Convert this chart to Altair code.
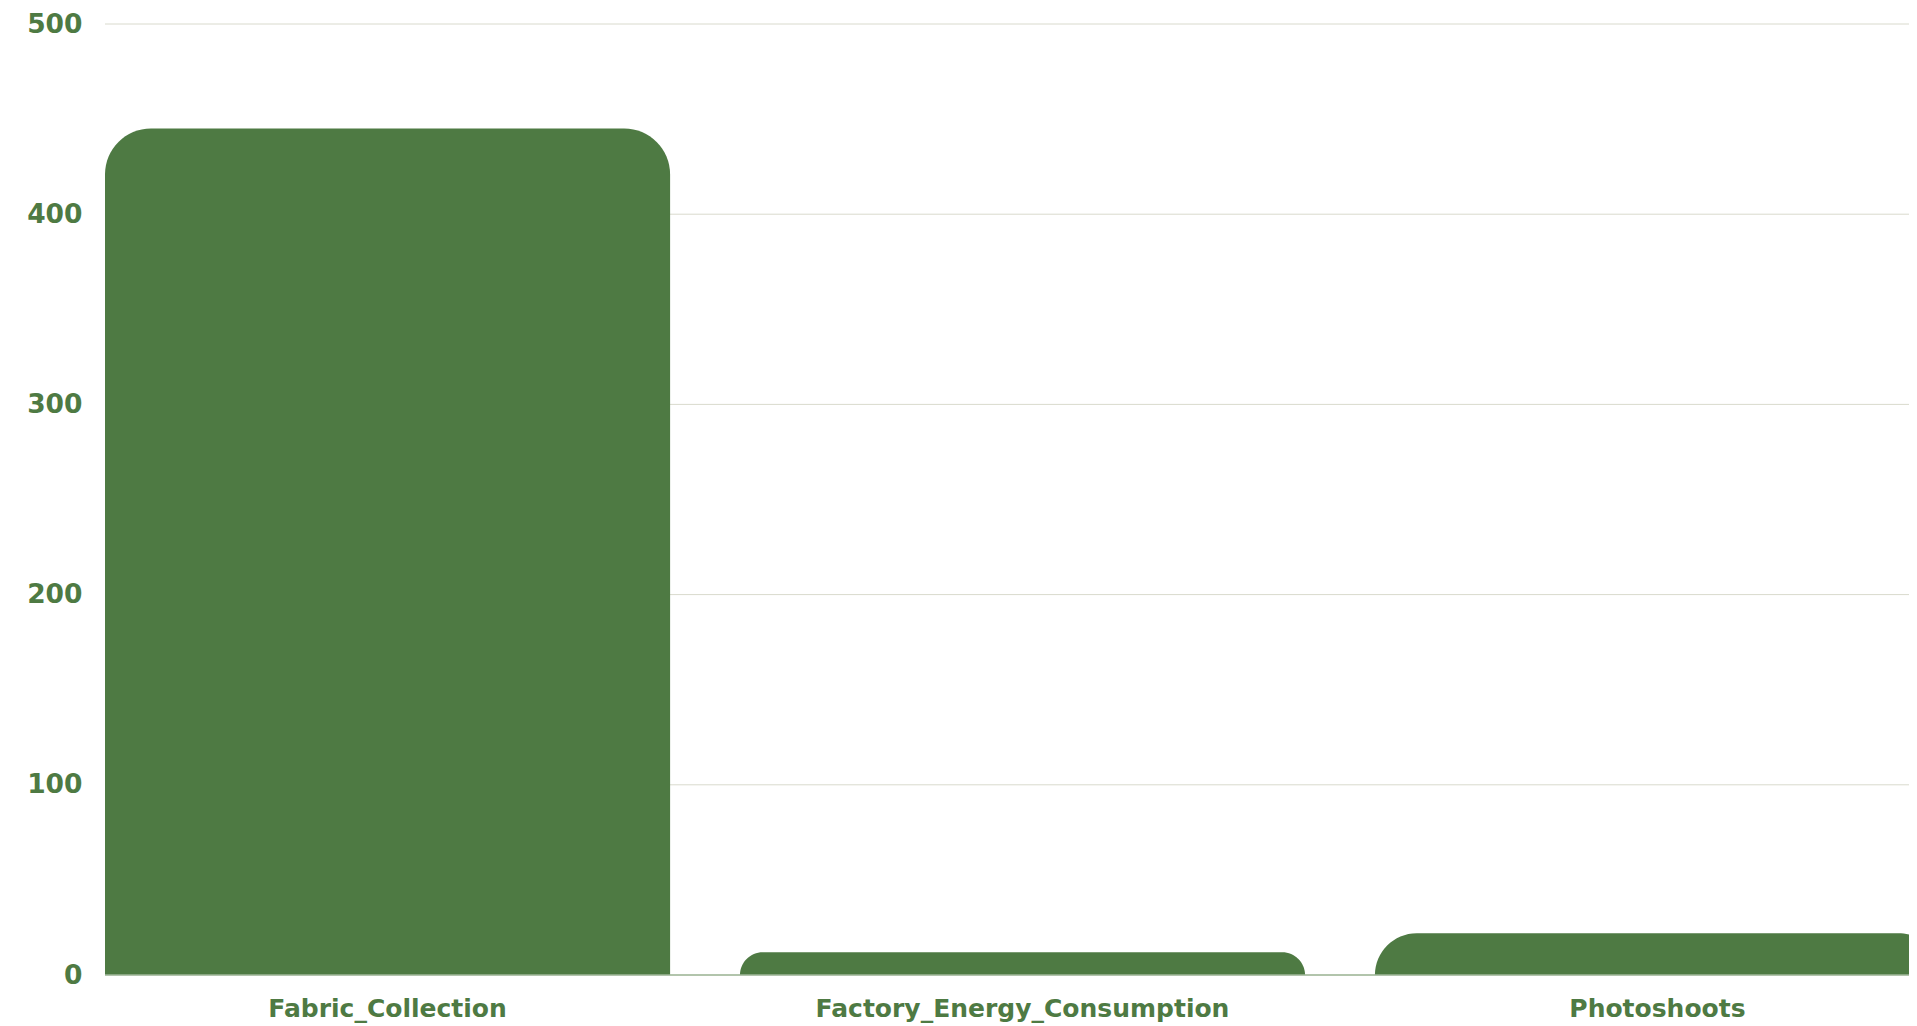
import altair as alt
import pandas as pd

categories = ["Fabric_Collection", "Factory_Energy_Consumption", "Photoshoots"]
values = [445, 12, 22]
y_ticks = [0, 100, 200, 300, 400, 500]

df = pd.DataFrame({"category": categories, "value": values})
grid_df = pd.DataFrame({"tick": y_ticks})
base_df = pd.DataFrame({"tick": [0]})

GREEN = "#4e7a43"
FONT = "DejaVu Sans"
PLOT_W = 1804
PLOT_H = 951

y_scale = alt.Scale(domain=[0, 500], nice=False)

grid = alt.Chart(grid_df).mark_rule(color="#d9dacd", strokeWidth=1).encode(
    y=alt.Y("tick:Q", scale=y_scale),
    x=alt.value(0),
    x2=alt.value(PLOT_W),
)

bars = alt.Chart(df).transform_calculate(
    mirror="-datum.value"
).mark_bar(
    color=GREEN,
    cornerRadiusTopLeft=46,
    cornerRadiusTopRight=46,
    clip=True,
).encode(
    x=alt.X(
        "category:N",
        sort=categories,
        title=None,
        scale=alt.Scale(paddingInner=0.11, paddingOuter=0, range=[0, 1835]),
        axis=alt.Axis(
            labelAngle=0,
            labelFont=FONT,
            labelFontSize=25,
            labelFontWeight="bold",
            labelColor=GREEN,
            labelPadding=21,
            labelLimit=0,
            ticks=False,
            domain=False,
            grid=False,
        ),
    ),
    y=alt.Y(
        "value:Q",
        title=None,
        scale=y_scale,
        axis=alt.Axis(
            values=y_ticks,
            labelFont=FONT,
            labelFontSize=26.5,
            labelFontWeight="bold",
            labelColor=GREEN,
            labelPadding=23,
            ticks=False,
            domain=False,
            grid=False,
        ),
    ),
    y2="mirror:Q",
)

baseline = alt.Chart(base_df).mark_rule(color="#9fb798", strokeWidth=1.5).encode(
    y=alt.Y("tick:Q", scale=y_scale),
    x=alt.value(0),
    x2=alt.value(PLOT_W),
)

chart = alt.layer(grid, bars, baseline).properties(
    width=PLOT_W,
    height=PLOT_H,
    background="white",
    autosize=alt.AutoSizeParams(type="none"),
    padding={"left": 97, "top": 16, "right": 0, "bottom": 50},
).configure_view(strokeWidth=0)

chart.save("out.html", embed_options={"renderer": "svg", "actions": False})
